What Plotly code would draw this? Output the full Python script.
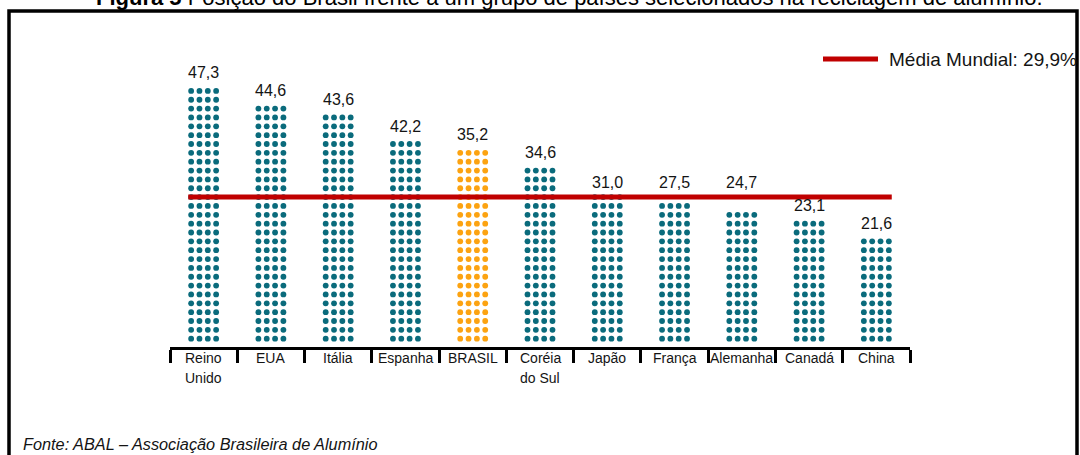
import plotly.graph_objects as go

# ---------------- data ----------------
countries = ["Reino<br>Unido", "EUA", "Itália", "Espanha", "BRASIL",
             "Coréia<br>do Sul", "Japão", "França", "Alemanha", "Canadá", "China"]
values = [47.3, 44.6, 43.6, 42.2, 35.2, 34.6, 31.0, 27.5, 24.7, 23.1, 21.6]
dot_rows = [29, 27, 26, 23, 22, 20, 17, 16, 15, 14, 12]   # rows of dots per column
highlight = "BRASIL"
world_mean = 29.9
world_mean_row = 16          # row of dots hidden under the world-average line
dots_per_row = 4

title_bold = "Figura 5"
title_rest = "Posição do Brasil frente a um grupo de países selecionados na reciclagem de alumínio."
source_text = "Fonte: ABAL – Associação Brasileira de Alumínio"
legend_text = "Média Mundial: " + f"{world_mean:.1f}".replace(".", ",") + "%"

# ---------------- style / layout ----------------
W, H = 1080, 455
ML, MR, MT, MB = 170, 170, 40, 108
plot_w = W - ML - MR
plot_h = H - MT - MB
row_px = 8.85        # vertical distance between dot rows
col_px = 8.33        # horizontal distance between dot columns
dot_size = 5.8
bottom_row_px = 338.7

TEAL = "#0a6b7c"
ORANGE = "#fca311"
RED = "#c00000"
TXT = "#141414"
FONT = "Liberation Sans, Arial, sans-serif"

n = len(countries)
cat_px = plot_w / n
dx = col_px / cat_px
y_lo = -((H - MB) - bottom_row_px) / row_px
y_hi = y_lo + plot_h / row_px


def px_x(p):
    return (p - ML) / plot_w


def px_y(p):
    return ((H - MB) - p) / plot_h


# ---------------- dots ----------------
groups = {"base": ([], []), "hi": ([], [])}
for i, (c, r) in enumerate(zip(countries, dot_rows)):
    key = "hi" if c == highlight else "base"
    for row in range(r):
        for k in range(dots_per_row):
            groups[key][0].append(i + (k - (dots_per_row - 1) / 2) * dx)
            groups[key][1].append(row)

fig = go.Figure()
for key, color in (("base", TEAL), ("hi", ORANGE)):
    xs, ys = groups[key]
    fig.add_trace(go.Scatter(x=xs, y=ys, mode="markers",
                             marker=dict(size=dot_size, color=color, line=dict(width=0)),
                             hoverinfo="skip", showlegend=False))

# world-average line
half = (dots_per_row - 1) / 2 * dx + (dot_size / 2) / cat_px
fig.add_trace(go.Scatter(x=[0 - half, (n - 1) + half], y=[world_mean_row] * 2,
                         mode="lines", line=dict(color=RED, width=5),
                         hoverinfo="skip", showlegend=False))

annotations = []

# value labels
label_clear_rows = 2.8
for i, (v, r) in enumerate(zip(values, dot_rows)):
    top = r - 1
    txt = f"{v:.1f}".replace(".", ",")
    if world_mean_row - label_clear_rows < top <= world_mean_row:
        ay, ys = world_mean_row, 4.5
    else:
        ay, ys = top, 7.5
    annotations.append(dict(x=i, y=ay, xref="x", yref="y", text=txt, showarrow=False,
                            yanchor="bottom", xanchor="center", yshift=ys,
                            font=dict(family=FONT, size=16, color=TXT)))

# category labels (one annotation per line)
line_gap = 20
for i, c in enumerate(countries):
    for j, part in enumerate(c.split("<br>")):
        annotations.append(dict(x=i, y=px_y(348), xref="x", yref="paper", text=part,
                                showarrow=False, yanchor="top", xanchor="center",
                                yshift=-j * line_gap,
                                font=dict(family=FONT, size=14, color=TXT)))

# legend
annotations.append(dict(x=px_x(887), y=px_y(59), xref="paper", yref="paper",
                        text=legend_text, showarrow=False, xanchor="left", yanchor="middle",
                        font=dict(family=FONT, size=19, color=TXT)))

# source
annotations.append(dict(x=px_x(21), y=px_y(444), xref="paper", yref="paper",
                        text="<i>" + source_text + "</i>", showarrow=False,
                        xanchor="left", yanchor="middle",
                        font=dict(family=FONT, size=16.3, color=TXT)))

# title (cut at the top of the page)
annotations.append(dict(x=px_x(94), y=px_y(12), xref="paper", yref="paper",
                        text="<b>" + title_bold + "</b> " + title_rest, showarrow=False,
                        xanchor="left", yanchor="bottom",
                        font=dict(family=FONT, size=22, color="#000000")))

shapes = [
    # frame
    dict(type="rect", xref="paper", yref="paper", x0=px_x(9), x1=px_x(1077),
         y0=px_y(475), y1=px_y(11), line=dict(color="#000000", width=3.5)),
    # legend sample
    dict(type="line", xref="paper", yref="paper", x0=px_x(823), x1=px_x(878),
         y0=px_y(59), y1=px_y(59), line=dict(color=RED, width=5)),
]

fig.update_layout(
    width=W, height=H,
    margin=dict(l=ML, r=MR, t=MT, b=MB),
    paper_bgcolor="white", plot_bgcolor="white",
    showlegend=False,
    annotations=annotations, shapes=shapes,
    xaxis=dict(range=[-0.5, n - 0.5], tickmode="array",
               tickvals=[i - 0.5 for i in range(n + 1)], showticklabels=False,
               ticks="outside", ticklen=13, tickwidth=2.5, tickcolor="#000000",
               showline=True, linecolor="#000000", linewidth=3,
               showgrid=False, zeroline=False, fixedrange=True),
    yaxis=dict(range=[y_lo, y_hi], visible=False, showgrid=False, zeroline=False,
               fixedrange=True),
)

fig.write_html("out.html", config={"displayModeBar": False})
